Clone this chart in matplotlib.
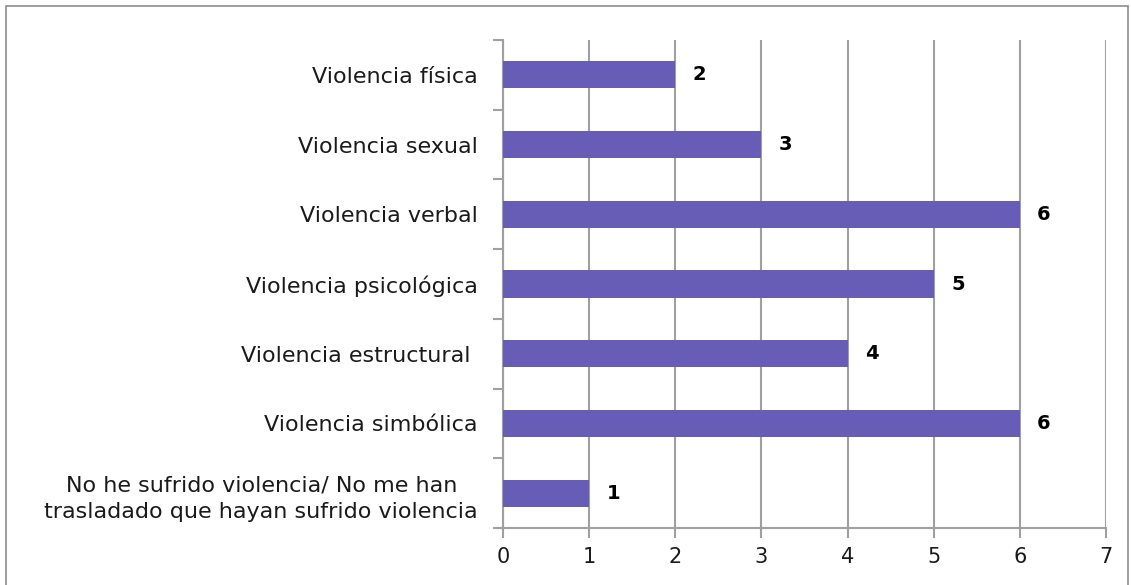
import matplotlib.pyplot as plt
import numpy as np
from matplotlib.patches import Rectangle

# datos
categorias = ['Violencia física', 'Violencia sexual', 'Violencia verbal',
              'Violencia psicológica', 'Violencia estructural ', 'Violencia simbólica',
              'No he sufrido violencia/ No me han\ntrasladado que hayan sufrido violencia']
valores = [2, 3, 6, 5, 4, 6, 1]

plt.rcParams['font.family'] = ['DejaVu Sans']

fig = plt.figure(figsize=(11.31, 5.85), dpi=100)
ax = fig.add_axes([503 / 1131, 1 - 528 / 585, (1106 - 503) / 1131, (528 - 40) / 585])

gris = '#A0A0A0'
y = np.arange(len(categorias))
ax.barh(y, valores, height=0.39, color='#675DB7', zorder=3)

for yi, v in zip(y, valores):
    ax.text(v + 0.2, yi, str(v), va='center', ha='left', fontsize=14, fontweight='bold')

ax.set_xlim(0, 7)
ax.set_ylim(len(categorias) - 0.5, -0.5)
ax.set_xticks(range(8))
ax.set_yticks(y)
etiquetas = ax.set_yticklabels(categorias, fontsize=16, ha='right', multialignment='center',
                               color='#1A1A1A')
for t in etiquetas:
    t.set_linespacing(1.45)
ax.tick_params(axis='y', which='major', length=0, pad=18)
ax.set_yticks(np.arange(-0.5, len(categorias), 1), minor=True)
ax.tick_params(axis='y', which='minor', length=7, color=gris, width=1.5)
ax.tick_params(axis='x', length=7, color=gris, width=1.5, labelsize=15, pad=7,
               labelcolor='#1A1A1A')
ax.xaxis.grid(True, color=gris, linewidth=1.5, zorder=0)

for s in ['top', 'right']:
    ax.spines[s].set_visible(False)
for s in ['left', 'bottom']:
    ax.spines[s].set_color(gris)
    ax.spines[s].set_linewidth(1.5)

# borde del gráfico
fig.patches.append(Rectangle((6 / 1131, -0.01), 1122 / 1131, 1 - 6 / 585 + 0.01,
                             transform=fig.transFigure, fill=False,
                             edgecolor='#8C8C8C', linewidth=1.2))

fig.savefig('out.png', dpi=100)
